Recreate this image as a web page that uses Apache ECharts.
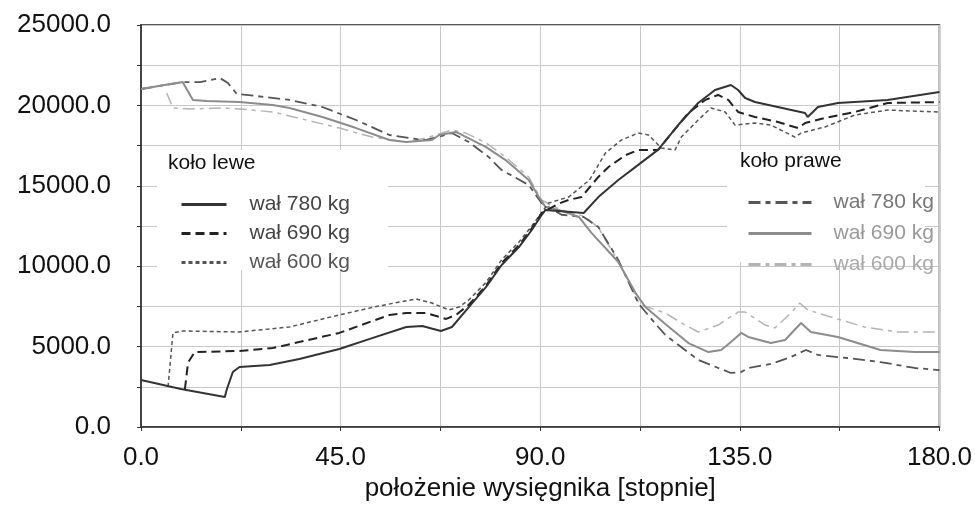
<!DOCTYPE html>
<html>
<head>
<meta charset="utf-8">
<script src="https://cdn.jsdelivr.net/npm/echarts@6/dist/echarts.min.js"></script>
<style>
  html, body { margin: 0; padding: 0; background: #fff; }
  #chart { width: 975px; height: 511px; }
</style>
</head>
<body>
<div id="chart"></div>
<script>
// dane: [położenie wysięgnika (stopnie), wartość]
const lewe780 = [[0,2920],[9.0,2360],[18.9,1870],[19.3,2300],[20.7,3420],[22.2,3730],[29.0,3860],[35.7,4230],[44.7,4850],[52.1,5530],[59.8,6220],[63.4,6280],[67.6,5970],[70.1,6220],[73.9,7460],[77.8,8710],[81.3,10075],[85.2,11190],[88.1,12250],[90.3,13180],[91.2,13500],[99.8,13310],[103.1,14300],[107.6,15360],[112.1,16300],[116.6,17250],[121.1,18780],[125.6,20150],[129.4,20960],[133.0,21270],[134.6,20960],[136.2,20460],[138.4,20210],[149.7,19530],[150.3,19280],[152.6,19900],[157.1,20150],[168.3,20340],[180,20830]];
const lewe690 = [[9.9,2350],[10.6,4000],[12.1,4660],[22.2,4730],[29.7,4910],[44.7,5850],[56.0,6970],[59.8,7090],[64.3,7090],[68.8,6720],[71.0,6970],[73.9,7600],[77.8,8800],[81.3,10200],[85.2,11300],[88.1,12350],[90.3,13300],[94.2,13900],[96.4,14120],[99.3,14300],[103.1,15550],[105.4,16170],[109.2,16900],[112.1,17230],[116.6,17230],[118.9,18030],[123.4,19530],[127.2,20340],[130.1,20650],[132.4,20340],[134.6,19590],[138.4,19280],[143.6,18970],[148.1,18590],[149.7,18900],[154.2,19220],[160.9,19590],[168.3,20150],[180,20210]];
const lewe600 = [[6.1,2500],[7.2,5850],[9.4,5970],[22.2,5910],[33.5,6220],[44.7,6970],[53.7,7530],[62.0,7960],[65.6,7710],[69.4,7280],[71.7,7460],[73.9,7900],[77.8,9000],[81.3,10400],[85.2,11500],[88.1,12500],[91.9,13930],[96.4,14300],[101.1,15360],[104.7,17040],[108.3,17850],[112.1,18280],[114.4,18160],[117.3,17350],[120.4,17230],[121.8,18030],[125.6,19090],[128.5,19840],[131.7,19590],[133.9,18780],[138.4,18900],[142.0,18780],[147.4,18030],[148.8,18280],[154.2,18660],[160.9,19400],[168.3,19710],[180,19590]];

const prawe780 = [[0,21020],[9.4,21450],[13.3,21450],[17.8,21700],[19.6,21390],[21.6,20710],[26.1,20580],[33.5,20340],[40.9,19900],[48.5,19090],[56.0,18160],[63.4,17850],[64.3,17850],[70.1,18280],[73.9,17720],[78.4,16790],[81.3,15980],[87.4,15050],[90.3,13930],[94.8,13200],[99.8,13060],[103.1,12440],[107.6,10390],[112.1,7710],[112.8,7460],[116.6,6220],[118.2,5720],[125.6,4170],[133.0,3360],[135.3,3420],[136.9,3670],[142.0,3920],[146.5,4350],[149.9,4790],[152.6,4480],[159.3,4290],[166.7,4040],[174.4,3670],[180,3540]];
const prawe690 = [[0,21020],[9.4,21450],[9.9,21200],[11.7,20340],[14.8,20270],[22.2,20210],[29.7,20030],[33.5,19840],[40.9,19280],[48.5,18590],[56.0,17850],[59.8,17720],[65.6,17850],[67.2,18160],[71.0,18350],[77.8,17410],[82.2,16600],[87.4,15360],[89.7,14300],[91.2,13680],[94.2,13500],[98.7,13060],[101.6,12060],[107.6,10260],[111.5,8330],[113.7,7460],[118.2,6400],[123.4,5220],[127.9,4660],[130.8,4790],[133.0,5290],[135.3,5850],[136.9,5600],[142.0,5220],[145.2,5410],[148.8,6470],[151.0,5910],[157.1,5600],[166.7,4790],[174.4,4660],[180,4660]];
const prawe600 = [[5.8,20770],[7.2,19840],[11.0,19780],[18.4,19840],[22.2,19780],[29.7,19590],[37.3,19090],[44.7,18590],[52.1,18030],[59.8,17720],[64.3,17970],[70.1,18470],[73.3,18280],[77.8,17660],[82.2,16790],[87.4,15550],[90.3,14120],[93.0,13700],[97.0,13300],[100.0,13100],[103.1,12400],[107.6,10300],[112.1,7800],[112.8,7590],[118.2,7090],[121.8,6470],[125.6,5910],[130.1,6340],[134.6,7150],[136.2,7150],[140.7,6340],[142.9,6160],[146.5,7090],[148.5,7710],[150.3,7280],[155.5,6840],[163.1,6220],[170.6,5910],[180,5910]];

const xMin = 0, xMax = 180, xStep = 22.5, xLabelStep = 45;
const yMin = 0, yMax = 25000, yStep = 2500, yLabelStep = 5000;

const FONT = '"Liberation Sans", Arial, sans-serif';
const chart = echarts.init(document.getElementById('chart'));

function line(name, data, color, width, dash) {
  return {
    name: name,
    type: 'line',
    data: data,
    symbol: 'none',
    showSymbol: false,
    animation: false,
    color: color,
    lineStyle: { color: color, width: width, type: dash }
  };
}

const option = {
  animation: false,
  backgroundColor: '#fff',
  grid: {
    left: 141, right: 33, top: 25, bottom: 84,
    show: true, borderColor: '#222', borderWidth: 1.5, backgroundColor: 'transparent'
  },
  xAxis: {
    type: 'value',
    min: xMin, max: xMax, interval: xStep,
    name: 'położenie wysięgnika [stopnie]',
    nameLocation: 'middle',
    nameGap: 49,
    nameTextStyle: { fontSize: 26, color: '#111', fontFamily: FONT },
    axisLine: { lineStyle: { color: '#333', width: 1.5 } },
    axisTick: { show: true, length: 4, lineStyle: { color: '#333' } },
    axisLabel: {
      fontSize: 26, color: '#111', fontFamily: FONT, margin: 18,
      showMinLabel: true, showMaxLabel: true,
      formatter: v => (v % xLabelStep === 0 ? v.toFixed(1) : '')
    },
    splitLine: { show: true, lineStyle: { color: '#c8c8c8', width: 1 } }
  },
  yAxis: {
    type: 'value',
    min: yMin, max: yMax, interval: yStep,
    axisLine: { show: true, lineStyle: { color: '#444', width: 2 } },
    axisTick: { show: true, length: 4, lineStyle: { color: '#333' } },
    axisLabel: {
      fontSize: 26, color: '#111', fontFamily: FONT, margin: 30,
      formatter: v => (v % yLabelStep === 0 ? v.toFixed(1) : '')
    },
    splitLine: { show: true, lineStyle: { color: '#c8c8c8', width: 1 } }
  },
  legend: [
    {
      orient: 'vertical', left: 175, top: 189,
      itemWidth: 45, itemHeight: 14, itemGap: 8,
      itemStyle: { opacity: 0 },
      lineStyle: { width: 3 },
      textStyle: { fontSize: 21, fontFamily: FONT, color: '#444', padding: [0, 0, 0, 18] },
      formatter: n => n.split(' - ')[1],
      data: [
        { name: 'koło lewe - wał 780 kg', textStyle: { color: '#444' } },
        { name: 'koło lewe - wał 690 kg', textStyle: { color: '#444' } },
        { name: 'koło lewe - wał 600 kg', textStyle: { color: '#555' } }
      ]
    },
    {
      orient: 'vertical', left: 742, top: 187,
      itemWidth: 63, itemHeight: 14, itemGap: 10,
      itemStyle: { opacity: 0 },
      lineStyle: { width: 3 },
      textStyle: { fontSize: 21, fontFamily: FONT, color: '#888', padding: [0, 0, 0, 17] },
      formatter: n => n.split(' - ')[1],
      data: [
        { name: 'koło prawe - wał 780 kg', textStyle: { color: '#777' } },
        { name: 'koło prawe - wał 690 kg', textStyle: { color: '#999' } },
        { name: 'koło prawe - wał 600 kg', textStyle: { color: '#aaa' } }
      ]
    }
  ],
  graphic: [
    { type: 'rect', z: 1, silent: true, shape: { x: 157, y: 150, width: 231, height: 120 }, style: { fill: '#fff' } },
    { type: 'rect', z: 1, silent: true, shape: { x: 727, y: 150, width: 198, height: 112 }, style: { fill: '#fff' } },
    { type: 'text', z: 5, left: 168, top: 153, style: { text: 'koło lewe', font: '21px ' + FONT, fill: '#111' } },
    { type: 'text', z: 5, left: 740, top: 151, style: { text: 'koło prawe', font: '21px ' + FONT, fill: '#111' } }
  ],
  series: [
    line('koło prawe - wał 600 kg', prawe600, '#b4b4b4', 1.5, [12, 5, 4, 5]),
    line('koło prawe - wał 780 kg', prawe780, '#555', 1.8, [12, 5, 5, 5]),
    line('koło prawe - wał 690 kg', prawe690, '#8c8c8c', 2, 'solid'),
    line('koło lewe - wał 600 kg', lewe600, '#555', 1.5, [4, 3]),
    line('koło lewe - wał 690 kg', lewe690, '#222', 2, [9, 5]),
    line('koło lewe - wał 780 kg', lewe780, '#333', 2, 'solid')
  ]
};

chart.setOption(option);
</script>
</body>
</html>
